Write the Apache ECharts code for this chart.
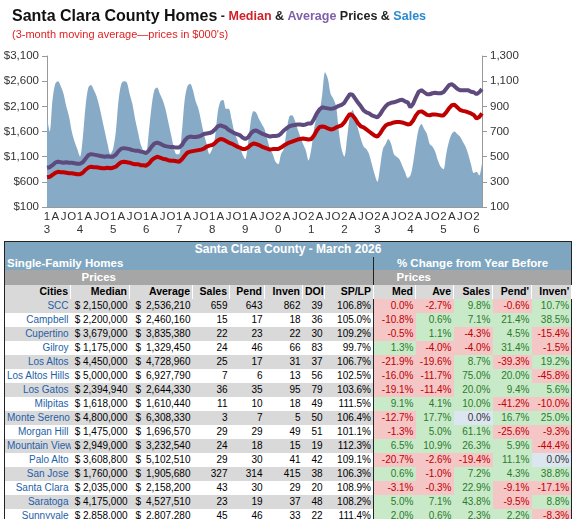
<!DOCTYPE html>
<html><head><meta charset="utf-8">
<script src="https://cdn.jsdelivr.net/npm/echarts@6/dist/echarts.min.js"></script>
<style>
body{margin:0;width:575px;height:519px;background:#fff;font-family:"Liberation Sans",Arial,sans-serif;position:relative;overflow:hidden}
#chart{position:absolute;left:0;top:0;width:575px;height:236px}
#tbl{position:absolute;left:4px;top:241px;width:567px;border-collapse:collapse;table-layout:fixed;font-size:10px;border:1.5px solid #222}
#tbl td{padding:0 2px;white-space:nowrap;overflow:hidden;height:14px;line-height:13px;text-align:right;box-sizing:border-box}
#tbl tr.t td{background:#7fa6c0;color:#fff;font-weight:bold;font-size:12px;text-align:center;height:15px}
#tbl tr.s td{background:#7fa6c0;color:#fff;font-weight:bold;font-size:11.5px;height:13px;line-height:12px;text-align:left}
#tbl tr.p td{background:#a6a6a6;color:#fff;font-weight:bold;font-size:11.5px;height:15px}
#tbl tr.h td{background:#d9d9d9;font-weight:bold;font-size:10.5px;height:14px;border-right:1px solid #fff}
#tbl tr.g td{background:#d9d9d9}
td.c{color:#1f5fa8}
td.sep{border-right:1.5px solid #222}
td.neg{background:#f4c6c6 !important;color:#c00000}
td.pos{background:#c9eac9 !important;color:#2b7a2b}
td.zer{background:#dce6f1 !important;color:#333}
</style></head><body>
<div id="chart"></div>
<table id="tbl"></table>
<script>
// monthly, Jan 2013 .. Mar 2026
const sales = [
 820,700,950,1080,1100,1060,1000,900,820,700,620,560,
 500,650,900,1050,1070,1030,980,900,800,700,600,520,
 560,700,950,1080,1100,1090,1000,920,800,700,600,550,
 540,700,900,1030,1050,1000,950,880,780,680,580,520,
 520,700,950,1060,1080,1030,940,880,780,680,600,520,
 560,650,850,940,950,880,880,800,700,640,580,520,
 480,600,780,860,850,800,760,720,640,560,520,460,
 440,520,560,700,820,830,790,720,660,600,550,470,
 560,720,820,860,1000,1170,1120,1000,960,900,700,560,
 500,650,820,870,800,720,640,580,560,520,440,360,
 300,420,560,600,640,600,520,500,480,430,380,330,
 350,450,600,720,760,720,680,600,580,540,470,420,
 400,520,620,680,700,680,660,620,580,520,440,370,
 380,350,450];
const median = [
 690,700,740,780,800,790,790,780,770,770,760,750,
 750,780,840,880,900,890,890,880,870,870,880,870,
 880,900,950,990,1000,990,980,960,950,950,930,930,
 920,960,1030,1070,1100,1080,1060,1050,1030,1020,1020,1010,
 1000,1050,1120,1180,1200,1210,1220,1230,1240,1260,1300,1320,
 1330,1370,1420,1450,1440,1410,1380,1360,1330,1300,1280,1250,
 1250,1280,1330,1360,1350,1330,1300,1280,1260,1240,1250,1250,
 1250,1280,1320,1350,1380,1400,1420,1440,1450,1460,1450,1440,
 1450,1520,1620,1690,1700,1690,1660,1640,1650,1680,1700,1720,
 1780,1870,1950,1920,1850,1760,1700,1680,1640,1600,1560,1520,
 1500,1560,1650,1720,1750,1760,1780,1790,1790,1780,1760,1740,
 1750,1820,1920,1990,2000,1970,1930,1920,1940,1940,1930,1920,
 1920,1980,2060,2120,2130,2080,2030,2010,2000,1980,1960,1930,
 1860,1890,1960];
const average = [
 880,890,930,980,1000,990,980,990,980,980,970,960,
 960,990,1060,1130,1150,1140,1130,1120,1110,1100,1110,1100,
 1100,1140,1210,1260,1270,1260,1250,1230,1220,1220,1200,1190,
 1170,1220,1300,1360,1380,1360,1330,1310,1300,1290,1290,1280,
 1280,1330,1420,1480,1500,1490,1490,1500,1520,1550,1560,1570,
 1590,1640,1700,1720,1700,1680,1630,1600,1570,1550,1530,1480,
 1450,1480,1560,1610,1620,1590,1560,1540,1520,1500,1510,1510,
 1520,1560,1620,1660,1700,1720,1730,1740,1740,1730,1740,1760,
 1760,1850,1960,2040,2080,2070,2060,2050,2060,2080,2110,2130,
 2170,2260,2340,2330,2250,2170,2100,2020,1980,1960,1920,1900,
 1880,1940,2030,2100,2150,2170,2180,2200,2220,2230,2200,2180,
 2080,2150,2280,2390,2420,2380,2340,2340,2360,2370,2360,2360,
 2380,2450,2520,2540,2500,2450,2420,2420,2420,2420,2390,2380,
 2340,2380,2440];
const months = sales.map((_, i) => 2013 + Math.floor(i / 12) + '-' + (i % 12 + 1));
const quarterLetters = {3: 'A', 6: 'J', 9: 'O'};

const cities = ['SCC','Campbell','Cupertino','Gilroy','Los Altos','Los Altos Hills','Los Gatos','Milpitas','Monte Sereno','Morgan Hill','Mountain View','Palo Alto','San Jose','Santa Clara','Saratoga','Sunnyvale'];
const medianPrice = ['2,150,000','2,200,000','3,679,000','1,175,000','4,450,000','5,000,000','2,394,940','1,618,000','4,800,000','1,475,000','2,949,000','3,608,800','1,760,000','2,035,000','4,175,000','2,858,000'];
const averagePrice = ['2,536,210','2,460,160','3,835,380','1,329,450','4,728,960','6,927,790','2,644,330','1,610,440','6,308,330','1,696,570','3,232,540','5,102,510','1,905,680','2,158,200','4,527,510','2,807,280'];
const salesCount = [659,15,22,24,25,7,36,11,3,29,24,29,327,43,23,45];
const pending = [643,17,23,46,17,6,35,10,7,29,18,30,314,30,19,46];
const inventory = [862,18,22,66,31,13,95,18,5,49,15,41,415,29,37,33];
const doi = [39,36,30,83,37,56,79,49,50,51,19,42,38,20,48,22];
const spLp = ['106.8%','105.0%','109.2%','99.7%','106.7%','102.5%','103.6%','111.5%','106.4%','101.1%','112.3%','109.1%','106.3%','108.9%','108.2%','111.4%'];
const chgMed = [0.0,-10.8,-0.5,1.3,-21.9,-16.0,-19.1,9.1,-12.7,-1.3,6.5,-20.7,0.6,-3.1,5.0,2.0];
const chgAve = [-2.7,0.6,1.1,-4.0,-19.6,-11.7,-11.4,4.1,17.7,5.0,10.9,-2.6,-1.0,-0.3,7.1,0.6];
const chgSales = [9.8,7.1,-4.3,-4.0,8.7,75.0,20.0,10.0,0.0,61.1,26.3,-19.4,7.2,22.9,43.8,2.3];
const chgPend = [-0.6,21.4,4.5,31.4,-39.3,20.0,9.4,-41.2,16.7,-25.6,5.9,11.1,4.3,-9.1,-9.5,2.2];
const chgInven = [10.7,38.5,-15.4,-1.5,19.2,-45.8,5.6,-10.0,25.0,-9.3,-44.4,0.0,38.8,-17.1,8.8,-8.3];

const chart = echarts.init(document.getElementById('chart'));
const axisGrey = {lineStyle: {color: '#999'}};
chart.setOption({
    animation: false,
    textStyle: {fontFamily: 'Liberation Sans'},
    title: [{
        left: 7, top: 4,
        text: '{a|Santa Clara County Homes}{b| - }{r|Median}{b| & }{p|Average}{b| Prices & }{s|Sales}',
        textStyle: {rich: {
            a: {fontSize: 16, fontWeight: 'bold', color: '#111'},
            b: {fontSize: 12.5, color: '#222'},
            r: {fontSize: 12.5, color: '#d0222a'},
            p: {fontSize: 12.5, color: '#8060a8'},
            s: {fontSize: 12.5, color: '#2a8ad0'}
        }}
    }, {
        left: 7, top: 24,
        text: "(3-month moving average\u2014prices in $000's)",
        textStyle: {fontSize: 11, fontWeight: 'normal', color: '#e02020'}
    }],
    grid: {left: 47, right: 93, top: 56, bottom: 29},
    xAxis: {
        type: 'category', data: months, boundaryGap: false,
        axisLine: axisGrey, axisTick: {show: false},
        axisLabel: {
            interval: i => i % 3 === 0,
            color: '#333', fontSize: 11.5, lineHeight: 13, margin: 3,
            formatter: (v, i) => {
                const m = i % 12;
                const yr = 2013 + Math.floor(i / 12);
                return m === 0 ? Math.floor(yr / 10) % 10 + '\n' + yr % 10 : quarterLetters[m];
            }
        }
    },
    yAxis: [{
        type: 'value', min: 100, max: 3100, interval: 500,
        axisLine: {show: true, lineStyle: {color: '#999'}}, splitLine: {show: false},
        axisTick: {show: true, lineStyle: {color: '#999'}},
        axisLabel: {color: '#333', fontSize: 11.5, formatter: v => '$' + v.toLocaleString('en-US')}
    }, {
        type: 'value', min: 100, max: 1300, interval: 200,
        axisLine: {show: true, lineStyle: {color: '#999'}}, splitLine: {show: false},
        axisTick: {show: true, lineStyle: {color: '#999'}},
        axisLabel: {color: '#333', fontSize: 11.5, formatter: v => v.toLocaleString('en-US')}
    }],
    series: [{
        type: 'line', yAxisIndex: 1, data: sales, symbol: 'none', smooth: 0.3,
        lineStyle: {width: 0}, areaStyle: {color: '#87aac7', opacity: 1}, z: 1
    }, {
        type: 'line', data: average, symbol: 'none',
        lineStyle: {width: 4, color: '#5e4a7d'}, z: 2
    }, {
        type: 'line', data: median, symbol: 'none',
        lineStyle: {width: 4, color: '#c00000'}, z: 3
    }]
});

// table
const widths = [66,59,63,37,35,38,22,49,42,38,39,39,40];
const pct = v => v.toFixed(1) + '%';
const cls = (v, i, col) => {
    if (v < 0 || (v === 0 && i === 0 && col === 'med')) return 'neg';
    if (v > 0) return 'pos';
    return 'zer';
};
let html = '<colgroup>' + widths.map(w => `<col style="width:${w}px">`).join('') + '</colgroup>';
html += '<tr class="t"><td colspan="13">Santa Clara County - March 2026</td></tr>';
html += '<tr class="s"><td colspan="8" class="sep">Single-Family Homes</td><td colspan="5" style="text-align:center">% Change from Year Before</td></tr>';
html += '<tr class="p"><td colspan="3" style="text-align:center">Prices</td><td colspan="5" class="sep"></td><td colspan="2" style="text-align:center">Prices</td><td colspan="3"></td></tr>';
html += '<tr class="h">' + ['Cities','Median','Average','Sales','Pend','Inven','DOI','SP/LP','Med','Ave','Sales',"Pend'","Inven'"]
    .map((h, k) => `<td${k === 7 ? ' class="sep"' : ''}>${h}</td>`).join('') + '</tr>';
cities.forEach((c, i) => {
    html += `<tr class="${i % 2 === 0 ? 'g' : ''}">` +
        `<td class="c">${c}</td>` +
        `<td>$ ${medianPrice[i]}</td>` +
        `<td><span style="float:left;padding-left:4px">$</span>${averagePrice[i]}</td>` +
        `<td>${salesCount[i]}</td><td>${pending[i]}</td><td>${inventory[i]}</td><td>${doi[i]}</td>` +
        `<td class="sep">${spLp[i]}</td>` +
        `<td class="${cls(chgMed[i], i, 'med')}">${pct(chgMed[i])}</td>` +
        `<td class="${cls(chgAve[i], i)}">${pct(chgAve[i])}</td>` +
        `<td class="${cls(chgSales[i], i)}">${pct(chgSales[i])}</td>` +
        `<td class="${cls(chgPend[i], i)}">${pct(chgPend[i])}</td>` +
        `<td class="${cls(chgInven[i], i)}">${pct(chgInven[i])}</td></tr>`;
});
document.getElementById('tbl').innerHTML = html;
</script>
</body></html>
